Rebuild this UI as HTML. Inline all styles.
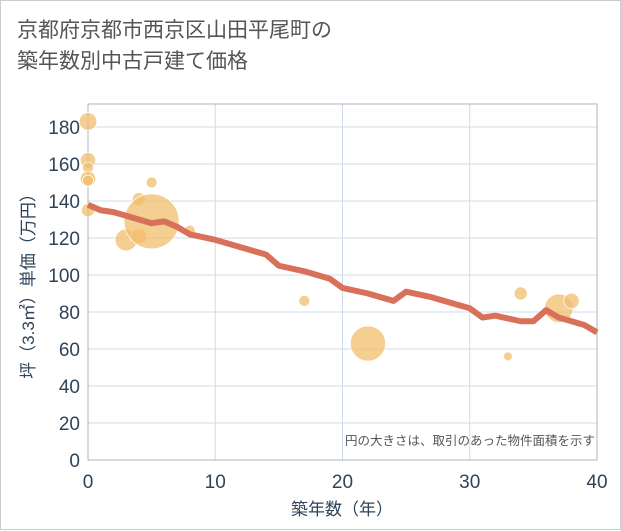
<!DOCTYPE html>
<html><head><meta charset="utf-8"><style>
body{margin:0;background:#fff;}
.wrap{position:relative;width:619px;height:528px;border:1px solid #ccc;background:#fff;font-family:"Liberation Sans","Noto Sans CJK JP",sans-serif;}
.title{position:absolute;left:16px;top:14px;font-size:21px;line-height:31px;color:#555;}
</style></head><body>
<div class="wrap">
<div class="title">京都府京都市西京区山田平尾町の<br>築年数別中古戸建て価格</div>
<svg id="c" width="621" height="530" style="position:absolute;left:0;top:0"></svg>
</div>
<script>
const xTicks=[0,10,20,30,40];
const yTicks=[0,20,40,60,80,100,120,140,160,180];
const lineYears=[0,1,2,3,4,5,6,7,8,10,12,14,15,17,19,20,22,24,25,27,29,30,31,32,34,35,36,37,39,40];
const lineValues=[138,135,134,132,130,128,129,126,122,119,115,111,105,102,98,93,90,86,91,88,84,82,77,78,75,75,81,77,73,69];
const bubbleYears=[0,0,0,0,0,0,3,4,4,5,5,8,17,22,33,34,37,38];
const bubbleValues=[183,162,158,152,151,135,119,121,141,150,129,124,86,63,56,90,82,86];
const bubbleSizes=[8,7,5,7,5,6,10,7,6,5,25,5,5,16,4,6,13,7];
const NS='http://www.w3.org/2000/svg';
const svg=document.getElementById('c');
const X0=87,X1=596,Y0=459,YT=103;
const x=v=>X0+(X1-X0)*v/40;
const y=v=>Y0-v*1.85;
function mk(t,a){const e=document.createElementNS(NS,t);for(const k in a)e.setAttribute(k,a[k]);svg.appendChild(e);return e;}
yTicks.forEach(t=>{
 const g=mk('line',{x1:X0,x2:X1,y1:y(t),y2:y(t),stroke:'#cfdbe8','stroke-width':1});
 
 
 const l=mk('text',{x:X0-8,y:y(t)+7,'text-anchor':'end','font-size':19,fill:'#2f4458'});
 l.textContent=t;
 
 
});
xTicks.forEach(t=>{
 const g=mk('line',{x1:x(t),x2:x(t),y1:YT,y2:Y0,stroke:'#cfdbe8','stroke-width':1});
 
 
 const l=mk('text',{x:x(t),y:Y0+28,'text-anchor':'middle','font-size':19,fill:'#2f4458'});
 l.textContent=t;
 
 
});
const fr=mk('rect',{x:X0,y:YT,width:X1-X0,height:Y0-YT,fill:'none',stroke:'#aab4c0','stroke-width':1});


bubbleYears.forEach((yr,i)=>{
 const c=mk('circle',{cx:x(yr),cy:y(bubbleValues[i]),r:bubbleSizes[i]*1.1,fill:'rgba(242,190,110,0.75)',stroke:'#fff','stroke-width':0.7});
 
 
});
const p=mk('polyline',{points:lineYears.map((yr,i)=>x(yr)+','+y(lineValues[i])).join(' '),fill:'none',stroke:'#d9705a','stroke-width':6,'stroke-linejoin':'round'});


const n=mk('text',{x:594,y:444,'text-anchor':'end','font-size':12.5,fill:'#555'});
n.textContent='円の大きさは、取引のあった物件面積を示す';


const xt=mk('text',{x:341,y:514,'text-anchor':'middle','font-size':17,fill:'#2f4458'});
xt.textContent='築年数（年）';


const yt=mk('text',{x:0,y:0,'text-anchor':'middle','font-size':17,fill:'#2f4458',transform:'translate(33,281) rotate(-90)'});
yt.textContent='坪（3.3㎡）単価（万円）';


</script>
</body></html>
